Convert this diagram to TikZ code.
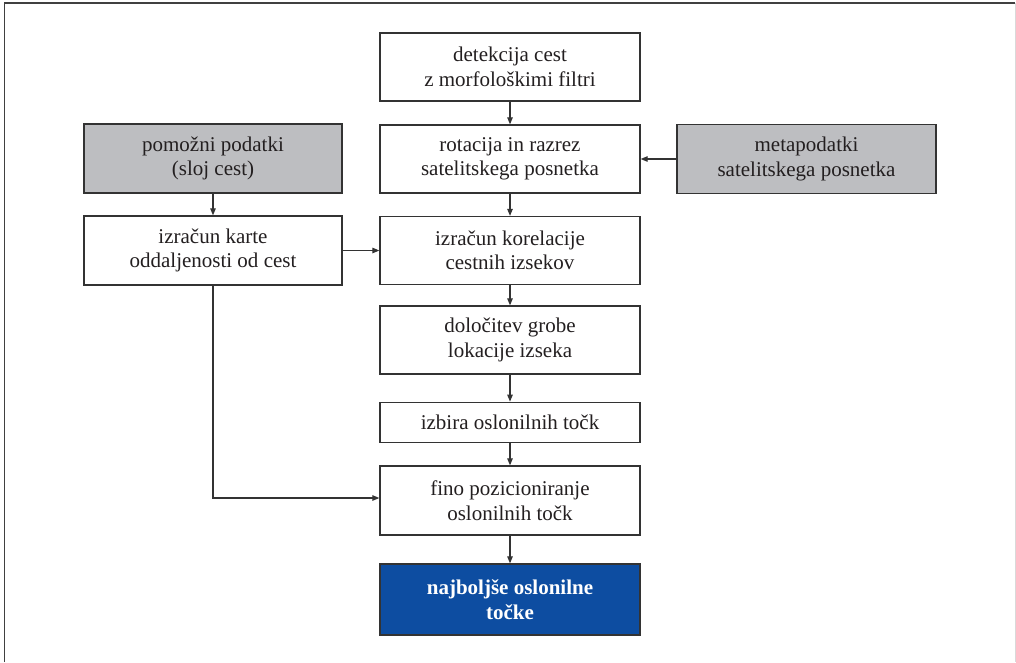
\documentclass[tikz,border=0pt]{standalone}
\usepackage{fontspec}
\setmainfont{Liberation Serif}
\usetikzlibrary{arrows.meta}
\definecolor{txt}{HTML}{231F20}
\definecolor{edge}{HTML}{333333}
\definecolor{grayfill}{HTML}{BDBEC1}
\definecolor{bluefill}{HTML}{0D4DA1}
\begin{document}
\begin{tikzpicture}[x=1pt,y=-1pt,
  box/.style={draw=edge,line width=1.3pt,fill=white,text=txt,align=center,
    minimum width=260pt,inner sep=0pt,
    font=\fontsize{21}{24.5}\selectfont},
  graybox/.style={box,fill=grayfill},
  bluebox/.style={box,fill=bluefill,text=white,font=\fontsize{21}{24.5}\selectfont\bfseries},
  arr/.style={draw=edge,line width=1.1pt,-{Triangle[length=7pt,width=5.5pt]}},
  frame/.style={line width=1.6pt,draw=black!75}]
\useasboundingbox (0,0) rectangle (1016,662);
\draw[frame] (4.5,662) -- (4.5,3) -- (1015,3);
\draw[line width=1pt,draw=black!15] (1015,3) -- (1015,662);
\node[box,minimum height=68pt] (d1) at (510,67) {detekcija cest\\z morfološkimi filtri};
\node[box,minimum height=68pt] (d2) at (510,159) {rotacija in razrez\\satelitskega posnetka};
\node[box,minimum height=68pt] (d3) at (510,250.5) {izračun korelacije\\cestnih izsekov};
\node[box,minimum height=68pt] (d4) at (510,340) {določitev grobe\\lokacije izseka};
\node[box,minimum height=40.5pt] (d5) at (510,422.5) {izbira oslonilnih točk};
\node[box,minimum height=69pt] (d6) at (510,500.5) {fino pozicioniranje\\oslonilnih točk};
\node[bluebox,minimum height=71pt] (d7) at (510,599.5) {najboljše oslonilne\\točke};
\node[graybox,minimum width=258pt,minimum height=69pt] (p) at (213,158.5) {pomožni podatki\\(sloj cest)};
\node[box,minimum width=258pt,minimum height=69pt] (k) at (213,250.5) {izračun karte\\oddaljenosti od cest};
\node[graybox,minimum width=259pt,minimum height=69pt] (m) at (806.5,159) {metapodatki\\satelitskega posnetka};
\draw[arr] (d1) -- (d2);
\draw[arr] (d2) -- (d3);
\draw[arr] (d3) -- (d4);
\draw[arr] (d4) -- (d5);
\draw[arr] (d5) -- (d6);
\draw[arr] (d6) -- (d7);
\draw[arr] (p) -- (k);
\draw[arr] (k.east) -- (d3.west);
\draw[arr] (m.west) -- (d2.east);
\draw[arr] (k.south) |- ([yshift=2.5pt]d6.west);
\end{tikzpicture}
\end{document}
